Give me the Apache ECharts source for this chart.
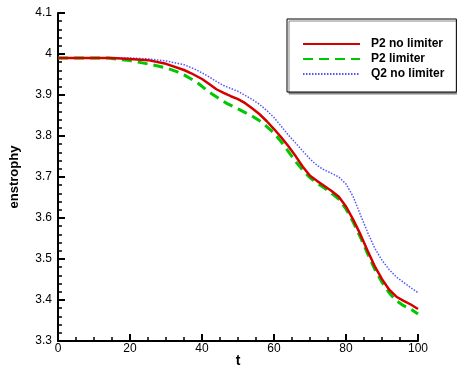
<!DOCTYPE html>
<html>
<head>
<meta charset="utf-8">
<script src="https://cdn.jsdelivr.net/npm/echarts@6/dist/echarts.min.js"></script>
<style>html,body{margin:0;padding:0;background:#fff}#c{width:457px;height:371px}</style>
</head>
<body>
<div id="c"></div>
<script>
const seriesNames = ['P2 no limiter', 'P2 limiter', 'Q2 no limiter'];

const tRed = [0,5,10,15,20,25,30,35,37,40,42,44,46,48,50,52,54,56,58,60,62,64,66,68,70,72,74,76,78,80,82,84,86,88,90,92,94,96,98,100];
const vRed = [3.99,3.99,3.99,3.99,3.988,3.985,3.976,3.961,3.953,3.939,3.927,3.914,3.905,3.897,3.89,3.88,3.867,3.853,3.836,3.817,3.797,3.775,3.751,3.725,3.703,3.69,3.678,3.666,3.652,3.628,3.596,3.56,3.52,3.482,3.451,3.425,3.408,3.398,3.389,3.378];

const tGreen = [0,10,14,16,20,23,26,30,33,35,37,39,41,43,45,47,50,52,54,56,58,60,62,64,66,68,70,72,74,76,78,80,82,84,86,88,90,92,94,96,98,100];
const vGreen = [3.99,3.99,3.99,3.988,3.984,3.979,3.974,3.966,3.957,3.949,3.939,3.928,3.914,3.901,3.89,3.879,3.866,3.857,3.848,3.837,3.823,3.807,3.786,3.762,3.738,3.716,3.698,3.685,3.673,3.66,3.646,3.622,3.59,3.553,3.513,3.475,3.443,3.417,3.398,3.386,3.378,3.366];

const tBlue = [0,10,20,25,30,35,38,40,42,44,46,48,50,52,54,56,58,60,62,64,66,68,70,72,74,76,78,80,82,84,86,88,90,92,94,96,98,100];
const vBlue = [3.99,3.99,3.99,3.988,3.983,3.974,3.963,3.954,3.944,3.933,3.923,3.916,3.909,3.899,3.889,3.877,3.862,3.845,3.824,3.802,3.783,3.763,3.744,3.728,3.717,3.709,3.7,3.683,3.652,3.608,3.565,3.526,3.497,3.474,3.456,3.443,3.43,3.418];

const xTicks = [0, 20, 40, 60, 80, 100];
const yTicks = [3.3, 3.4, 3.5, 3.6, 3.7, 3.8, 3.9, 4, 4.1];

function pairs(t, v) { return t.map((x, i) => [x, v[i]]); }

const chart = echarts.init(document.getElementById('c'), null, {renderer: 'canvas'});
const font = 'Arial, "Liberation Sans", sans-serif';
chart.setOption({
  animation: false,
  backgroundColor: '#fff',
  grid: {left: 58, right: 39, top: 13, bottom: 30, containLabel: false, outerBoundsMode: 'none'},
  legend: {
    orient: 'vertical',
    left: 287, top: 19,
    data: seriesNames,
    itemWidth: 57, itemHeight: 10, itemGap: 3,
    padding: [19, 12, 12, 15],
    backgroundColor: '#fff',
    borderColor: '#000', borderWidth: 1,
    shadowColor: '#888', shadowOffsetX: 2, shadowOffsetY: 2, shadowBlur: 0,
    itemStyle: {opacity: 0},
    textStyle: {fontFamily: font, fontWeight: 'bold', fontSize: 12, color: '#000', padding: [0, 0, 0, 6]}
  },
  xAxis: {
    type: 'value', min: xTicks[0], max: xTicks[xTicks.length - 1], interval: 20,
    name: 't', nameLocation: 'middle', nameGap: 13, nameMoveOverlap: false,
    nameTextStyle: {fontFamily: font, fontWeight: 'bold', fontSize: 14, color: '#000'},
    axisLine: {show: true, lineStyle: {color: '#000', width: 2}},
    axisTick: {show: true, inside: true, length: 7, lineStyle: {color: '#000', width: 2}},
    minorTick: {show: true, splitNumber: 4, length: 4, lineStyle: {color: '#000', width: 1.5}},
    axisLabel: {fontFamily: font, fontSize: 12, color: '#000', margin: 2},
    splitLine: {show: false}
  },
  yAxis: {
    type: 'value', min: yTicks[0], max: yTicks[yTicks.length - 1], interval: 0.1,
    name: 'enstrophy', nameLocation: 'middle', nameGap: 37, nameRotate: 90, nameMoveOverlap: false,
    nameTextStyle: {fontFamily: font, fontWeight: 'bold', fontSize: 13, color: '#000'},
    axisLine: {show: true, lineStyle: {color: '#000', width: 2}},
    axisTick: {show: true, inside: true, length: 7, lineStyle: {color: '#000', width: 2}},
    minorTick: {show: true, splitNumber: 5, length: 4, lineStyle: {color: '#000', width: 1.5}},
    axisLabel: {fontFamily: font, fontSize: 12, color: '#000', margin: 6,
      formatter: v => String(Math.round(v * 10) / 10)},
    splitLine: {show: false}
  },
  series: [
    {name: seriesNames[0], type: 'line', data: pairs(tRed, vRed), symbol: 'none', z: 3,
     lineStyle: {color: '#d40000', width: 2.5}, itemStyle: {color: '#d40000'}},
    {name: seriesNames[1], type: 'line', data: pairs(tGreen, vGreen), symbol: 'none', z: 2,
     lineStyle: {color: '#00c800', width: 3, type: [10, 6]}, itemStyle: {color: '#00c800'}},
    {name: seriesNames[2], type: 'line', data: pairs(tBlue, vBlue), symbol: 'none', z: 1,
     lineStyle: {color: '#5555ff', width: 1.5, type: [1.5, 1.5]}, itemStyle: {color: '#5555ff'}}
  ]
});
</script>
</body>
</html>
